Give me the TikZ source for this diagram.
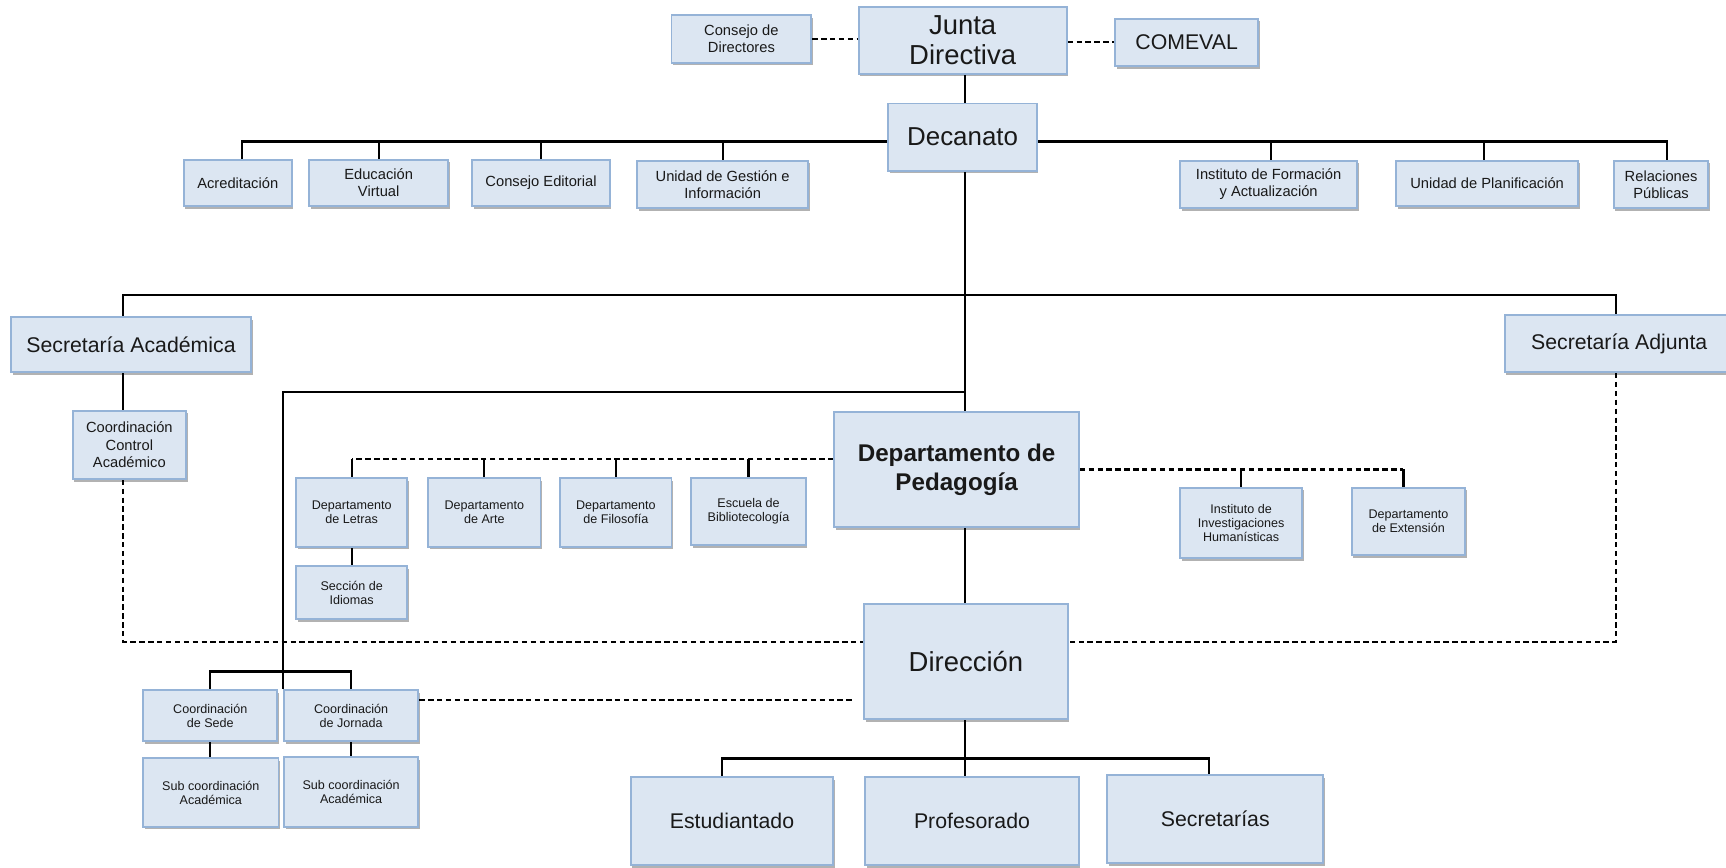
\documentclass[tikz,border=0pt]{standalone}
\usepackage{fontspec}
\setmainfont{Liberation Sans}
\usetikzlibrary{shadows,backgrounds}
\definecolor{bfill}{RGB}{220,230,242}
\definecolor{bdraw}{RGB}{149,179,215}
\begin{document}
\begin{tikzpicture}[x=0.02cm,y=-0.02cm,
  box/.style={draw=bdraw, fill=bfill, line width=1pt, inner sep=1pt, align=center, text=black!90,
    drop shadow={shadow xshift=0.8pt, shadow yshift=-1.4pt, opacity=0.3, fill=black}},
  wh/.style 2 args={minimum width=#1*0.02cm, minimum height=#2*0.02cm},
  ln/.style={line width=1.1pt, black},
  dsh/.style={line width=1.1pt, black, dash pattern=on 2.8pt off 1.8pt},
  fxl/.style={font=\fontsize{14.2}{15.4}\selectfont},
  fdec/.style={font=\fontsize{13.4}{15}\selectfont},
  fdp/.style={font=\fontsize{12.5}{15}\selectfont\bfseries},
  fmd/.style={font=\fontsize{11}{13}\selectfont},
  fsm/.style={font=\fontsize{7.6}{8.9}\selectfont},
  fxs/.style={font=\fontsize{6.5}{7.3}\selectfont},
]
\useasboundingbox (0,0) rectangle (1568,788);

% top
\node[box,fsm,wh={127}{43}] (consejo) at (673.5,35.5) {Consejo de\\Directores};
\node[box,fxl,wh={189}{61}] (junta) at (874.5,36.5) {Junta\\Directiva};
\node[box,fmd,wh={130}{43}] (comeval) at (1078,38.5) {COMEVAL};
\node[box,fdec,wh={135}{61}] (decanato) at (874.5,124.5) {Decanato};

% row 1
\node[box,fsm,wh={98}{42}] (acred) at (216,166) {Acreditación};
\node[box,fsm,wh={126}{42}] (eduv) at (344,166) {Educación\\Virtual};
\node[box,fsm,wh={125}{42}] (cedit) at (491.5,166) {Consejo Editorial};
\node[box,fsm,wh={155}{43}] (ugi) at (656.5,167.5) {Unidad de Gestión e\\Información};
\node[box,fsm,wh={161}{43}] (ifa) at (1152.5,167.5) {Instituto de Formación\\y Actualización};
\node[box,fsm,wh={165}{41}] (uplan) at (1351,166.5) {Unidad de Planificación};
\node[box,fsm,wh={86}{43}] (rrpp) at (1509,167.5) {Relaciones\\Públicas};

% secretarias
\node[box,fmd,wh={218}{50}] (secacad) at (119,313) {Secretaría Académica};
\node[box,fmd,wh={208}{52}] (secadj) at (1471,312) {Secretaría Adjunta};
\node[box,fsm,wh={103}{62}] (cca) at (117.5,404) {Coordinación\\Control\\Académico};

% departamento de pedagogia
\node[box,fdp,wh={222}{105}] (dp) at (869,426.5) {Departamento de\\Pedagogía};
\node[box,fxs,wh={101}{62}] (letras) at (319.5,465.5) {Departamento\\de Letras};
\node[box,fxs,wh={102}{62}] (arte) at (440,465.5) {Departamento\\de Arte};
\node[box,fxs,wh={101}{62}] (filo) at (559.5,465.5) {Departamento\\de Filosofía};
\node[box,fxs,wh={104}{61}] (biblio) at (680,464.5) {Escuela de\\Bibliotecología};
\node[box,fxs,wh={101}{48}] (idiomas) at (319.5,538.5) {Sección de\\Idiomas};
\node[box,fxs,wh={111}{64}] (inst) at (1127.5,475) {Instituto de\\Investigaciones\\Humanísticas};
\node[box,fxs,wh={103}{61}] (ext) at (1279.5,473.5) {Departamento\\de Extensión};

% direccion
\node[box,fxl,wh={185}{104}] (dir) at (877.5,601) {Dirección};
\node[box,fxs,wh={122}{46}] (sede) at (191,650) {Coordinación\\de Sede};
\node[box,fxs,wh={122}{46}] (jornada) at (319,650) {Coordinación\\de Jornada};
\node[box,fxs,wh={123}{62}] (sub1) at (191.5,720) {Sub coordinación\\Académica};
\node[box,fxs,wh={122}{63}] (sub2) at (319,719.5) {Sub coordinación\\Académica};
\node[box,fmd,wh={184}{80}] (estud) at (665,746) {Estudiantado};
\node[box,fmd,wh={194}{80}] (prof) at (883,746) {Profesorado};
\node[box,fmd,wh={196}{80}] (secr) at (1104,744) {Secretarías};

% bus coordinates
\coordinate (spine) at (877,0);
\coordinate (bus1) at (0,128.5);
\coordinate (bus2) at (0,268);
\coordinate (bus3) at (0,356);
\coordinate (bus4) at (0,583);
\coordinate (bus5) at (0,610);
\coordinate (bus6) at (0,636);
\coordinate (bus7) at (0,417);
\coordinate (bus9) at (0,689);

\begin{scope}[on background layer]
  \draw[dsh] (consejo.east) -- (consejo.east -| junta.west);
  \draw[dsh] (junta.east |- comeval.west) -- (comeval.west);
  \draw[ln] (junta.south -| spine) -- (decanato.north -| spine);

  % row 1
  \draw[ln] (acred.north -| 220,0) |- (decanato.west |- bus1);
  \draw[ln] (eduv.north) -- (eduv.north |- bus1);
  \draw[ln] (cedit.north) -- (cedit.north |- bus1);
  \draw[ln] (ugi.north) -- (ugi.north |- bus1);
  \draw[ln] (decanato.east |- bus1) -| (rrpp.north -| 1514,0);
  \draw[ln] (ifa.north -| 1155,0) -- (bus1 -| 1155,0);
  \draw[ln] (uplan.north -| 1348,0) -- (bus1 -| 1348,0);

  % spine
  \draw[ln] (decanato.south -| spine) -- (dp.north -| spine);
  \draw[ln] (dp.south -| spine) -- (dir.north -| spine);
  \draw[ln] (dir.south -| spine) -- (prof.north -| spine);

  % secretarias
  \draw[ln] (secacad.north -| 112,0) |- (bus2 -| spine) -| (secadj.north -| 1468,0);
  \draw[ln] (secacad.south -| 112,0) -- (cca.north -| 112,0);
  \draw[dsh] (cca.south -| 112,0) |- (dir.west |- bus4);
  \draw[dsh] (secadj.south -| 1468,0) |- (dir.east |- bus4);

  % coordinaciones
  \draw[ln] (bus3 -| spine) -| (jornada.north west);
  \draw[ln] (sede.north) |- (jornada.north |- bus5) -- (jornada.north);
  \draw[ln] (sede.south) -- (sub1.north -| sede.south);
  \draw[ln] (jornada.south) -- (sub2.north -| jornada.south);
  \draw[dsh, shorten >=4.5pt] (jornada.east |- bus6) -- (dir.west |- bus6);

  % departamentos
  \draw[dsh] (dp.west |- bus7) -- (letras.north |- bus7);
  \draw[ln] (letras.north) -- (letras.north |- bus7);
  \draw[ln] (arte.north) -- (arte.north |- bus7);
  \draw[ln] (filo.north) -- (filo.north |- bus7);
  \draw[ln] (biblio.north) -- (biblio.north |- bus7);
  \draw[ln] (letras.south) -- (idiomas.north);
  \draw[dsh] (dp.east) -- (dp.east -| 1275,0);
  \draw[ln] (inst.north) -- (inst.north |- dp.east);
  \draw[ln] (ext.north -| 1275,0) -- (dp.east -| 1275,0);

  % bottom
  \draw[ln] (estud.north -| 656,0) |- (bus9 -| spine) -| (secr.north -| 1098,0);
\end{scope}
\end{tikzpicture}
\end{document}
